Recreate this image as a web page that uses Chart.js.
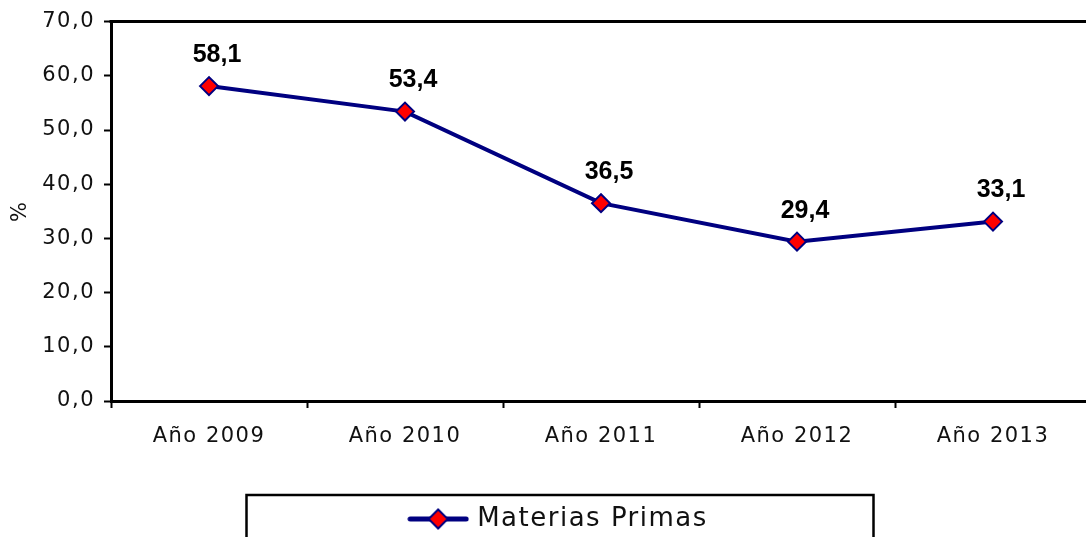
<!DOCTYPE html>
<html><head><meta charset="utf-8">
<script src="https://cdn.jsdelivr.net/npm/chart.js@4"></script>
<style>
html,body{margin:0;padding:0;background:#fff;overflow:hidden;}
#wrap{width:1086px;height:537px;overflow:hidden;position:relative;background:#fff;}
canvas{display:block;}
</style></head><body>
<div id="wrap"><canvas id="c" width="1120" height="560"></canvas></div>
<script>
const categories = ['Año 2009', 'Año 2010', 'Año 2011', 'Año 2012', 'Año 2013'];
const seriesLabel = 'Materias Primas';
const materiasPrimas = [58.1, 53.4, 36.5, 29.4, 33.1];
const yMin = 0, yMax = 70, yStep = 10;
const yTitle = '%';

const NAVY = '#000080', RED = '#FF0000';
const AXIS_FONT = '"DejaVu Sans", Verdana, sans-serif';
function fmt(v) { return Number(v).toFixed(1).replace('.', ','); }

// legend symbol: line with a diamond
const sym = document.createElement('canvas');
sym.width = 62; sym.height = 24;
(function () {
  const g = sym.getContext('2d');
  g.strokeStyle = NAVY; g.lineWidth = 5; g.lineCap = 'round';
  g.beginPath(); g.moveTo(3, 12); g.lineTo(59, 12); g.stroke();
  g.beginPath(); g.moveTo(31, 2.5); g.lineTo(40.5, 12); g.lineTo(31, 21.5); g.lineTo(21.5, 12); g.closePath();
  g.fillStyle = RED; g.fill(); g.lineWidth = 2; g.stroke();
})();

const spacing = {
  id: 'spacing',
  beforeLayout(c) { c.ctx.letterSpacing = '1.5px'; },
  beforeDraw(c) { c.ctx.letterSpacing = '1.5px'; }
};
const frame = {
  id: 'frame',
  beforeDatasetsDraw(c) {
    const { ctx, chartArea: a } = c;
    ctx.save(); ctx.strokeStyle = '#000'; ctx.lineWidth = 3;
    ctx.beginPath(); ctx.moveTo(a.left - 1.5, a.top); ctx.lineTo(a.right, a.top); ctx.lineTo(a.right, a.bottom); ctx.stroke();
    ctx.restore();
  }
};
const valueLabels = {
  id: 'valueLabels',
  afterDatasetsDraw(c) {
    const ctx = c.ctx, meta = c.getDatasetMeta(0), data = c.data.datasets[0].data;
    ctx.save();
    ctx.letterSpacing = '0px';
    ctx.font = 'bold 25px "Liberation Sans", Arial, sans-serif';
    ctx.fillStyle = '#000'; ctx.textAlign = 'center'; ctx.textBaseline = 'middle';
    meta.data.forEach((p, i) => ctx.fillText(fmt(data[i]), p.x + 8, p.y - 31));
    ctx.restore();
  }
};
const legendBox = {
  id: 'legendBox',
  afterDraw(c) {
    const L = c.legend;
    if (!L || !L.legendHitBoxes || !L.legendHitBoxes.length) return;
    const h = L.legendHitBoxes[0];
    const cy = h.top + h.height / 2;
    const w = 627;
    const left = L.left + (L.width - w) / 2;
    const ctx = c.ctx;
    ctx.save(); ctx.strokeStyle = '#000'; ctx.lineWidth = 2.5;
    ctx.strokeRect(left, cy - 24, w, 120);
    ctx.restore();
  }
};

new Chart(document.getElementById('c'), {
  type: 'line',
  data: {
    labels: categories,
    datasets: [{
      label: seriesLabel,
      data: materiasPrimas,
      borderColor: NAVY,
      borderWidth: 4,
      backgroundColor: RED,
      pointStyle: 'rectRot',
      pointRadius: 9,
      pointHoverRadius: 9,
      pointBackgroundColor: RED,
      pointBorderColor: NAVY,
      pointBorderWidth: 2,
      tension: 0,
      fill: false
    }]
  },
  options: {
    responsive: false,
    animation: false,
    events: [],
    layout: { padding: { top: 19, bottom: 18, left: 0, right: 0 } },
    plugins: {
      tooltip: { enabled: false },
      legend: {
        display: true,
        position: 'bottom',
        labels: {
          usePointStyle: true,
          pointStyleWidth: 52,
          color: '#111',
          font: { family: AXIS_FONT, size: 26 },
          padding: 9,
          generateLabels() {
            return [{ text: seriesLabel, pointStyle: sym, fillStyle: RED, strokeStyle: NAVY, lineWidth: 0, hidden: false, datasetIndex: 0, fontColor: '#111' }];
          }
        }
      }
    },
    scales: {
      x: {
        type: 'category',
        offset: true,
        grid: { offset: true, drawOnChartArea: false, drawTicks: true, tickLength: 7, tickWidth: 2, tickColor: '#000' },
        border: { display: true, color: '#000', width: 3 },
        ticks: { color: '#111', font: { family: AXIS_FONT, size: 21 }, padding: 16, maxRotation: 0, autoSkip: false },
        afterFit(s) { s.height = 96; }
      },
      y: {
        min: yMin, max: yMax,
        ticks: { stepSize: yStep, callback: v => fmt(v), color: '#111', font: { family: AXIS_FONT, size: 21 }, padding: 9 },
        grid: { drawOnChartArea: false, drawTicks: true, tickLength: 7, tickWidth: 2, tickColor: '#000' },
        border: { display: true, color: '#000', width: 3 },
        title: { display: true, text: yTitle, color: '#111', font: { family: AXIS_FONT, size: 21 }, padding: { top: 8, bottom: 0 } },
        afterFit(s) { s.width = 111; }
      },
      yR: {
        type: 'linear',
        position: 'right',
        display: true,
        grid: { display: false, drawTicks: false },
        border: { display: false },
        ticks: { display: false },
        afterFit(s) { s.width = 29; }
      }
    }
  },
  plugins: [spacing, frame, valueLabels, legendBox]
});
</script>
</body></html>
